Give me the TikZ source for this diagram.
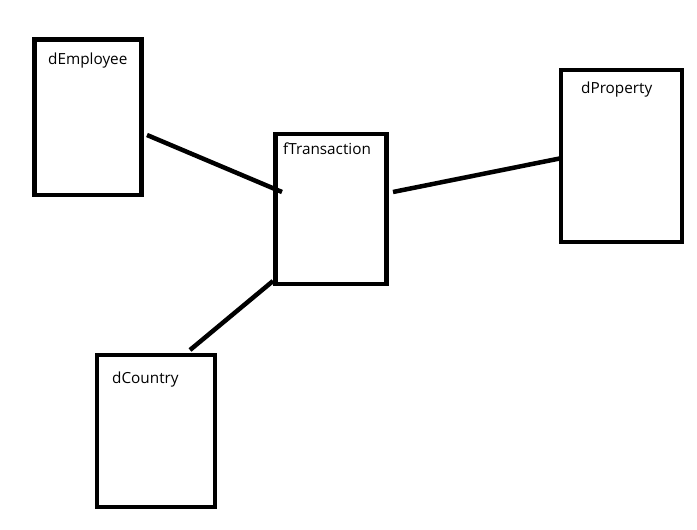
\documentclass[tikz,border=0pt]{standalone}
\usepackage{fontspec}
\setmainfont{Open Sans}
\usepackage{tikz}
\usetikzlibrary{positioning}

\begin{document}
\begin{tikzpicture}[
  x=1pt, y=-1pt,
  tbl/.style={draw=black, line width=4.5pt, fill=white, outer sep=0pt, inner sep=0pt},
  lbl/.style={anchor=base west, inner sep=0pt, font=\fontsize{15.3}{17}\selectfont},
  link/.style={draw=black, line width=4.5pt}
]
\useasboundingbox (0,0) rectangle (697,530);
\node[tbl, minimum width=107pt, minimum height=155.5pt] (emp) at (88,117.25) {};
\node[tbl, minimum width=111pt, minimum height=150pt] (trans) at (331,209) {};
\node[tbl, minimum width=121pt, minimum height=172pt] (prop) at (621.5,156) {};
\node[tbl, minimum width=118pt, minimum height=152pt] (ctry) at (156,431) {};
\node[lbl] (empname) at ([shift={(13.5,24.5)}]emp.north west) {dEmployee};
\node[lbl] (transname) at ([shift={(7.5,20)}]trans.north west) {fTransaction};
\node[lbl] (propname) at ([shift={(20,23)}]prop.north west) {dProperty};
\node[lbl] (ctryname) at ([shift={(15,28)}]ctry.north west) {dCountry};
\draw[link] ([shift={(5.5,17.75)}]emp.east) -- ([shift={(6.5,-17)}]trans.west);
\draw[link] ([shift={(6.5,-17)}]trans.east) -- ([shift={(1,2)}]prop.west);
\draw[link] ([shift={(-2.5,-3)}]trans.south west) -- ([shift={(34,-5)}]ctry.north);
\end{tikzpicture}
\end{document}
